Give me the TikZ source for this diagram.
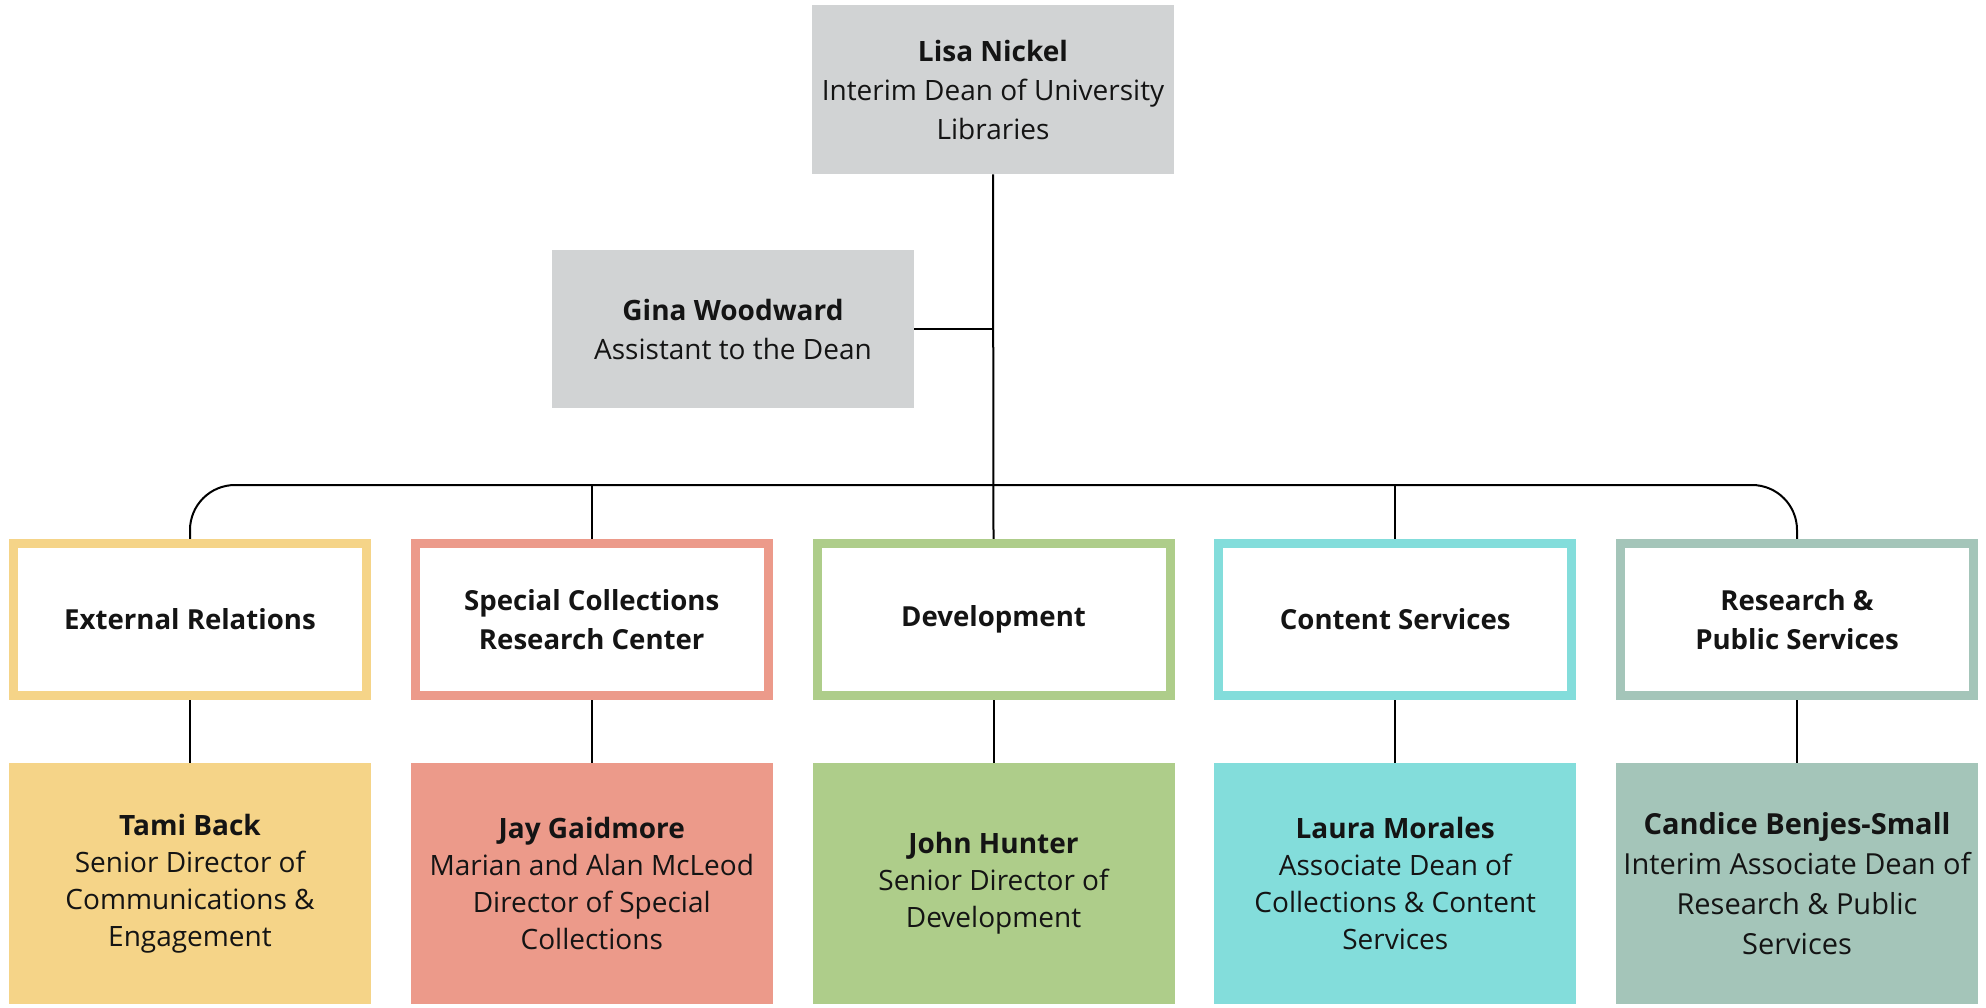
\documentclass[tikz,border=0pt]{standalone}
\usepackage{fontspec}
\setmainfont{Open Sans}
\usetikzlibrary{backgrounds}
\definecolor{boxgray}{HTML}{D1D3D4}
\definecolor{cyel}{HTML}{F5D488}
\definecolor{cred}{HTML}{EC9A8A}
\definecolor{cgreen}{HTML}{AECD8A}
\definecolor{ccyan}{HTML}{83DDDB}
\definecolor{csage}{HTML}{A4C5B9}
\definecolor{txt}{HTML}{141414}
\begin{document}
\begin{tikzpicture}[x=0.5pt,y=-0.5pt,
  every node/.style={font=\fontsize{14}{19.5}\selectfont, align=center, inner sep=0pt, text=txt},
  graybox/.style={fill=boxgray, minimum width=181pt},
  deptbox/.style={draw=#1, fill=white, line width=4.5pt, minimum width=176.5pt, minimum height=76pt, font=\fontsize{13.8}{19.5}\selectfont\bfseries},
  leafbox/.style={fill=#1, minimum width=181pt, minimum height=120.5pt, font=\fontsize{14}{18.5}\selectfont},
  conn/.style={draw=black, line width=1pt}]
\useasboundingbox (0,0) rectangle (1986,1007);

\node[graybox, minimum height=84.5pt] (dean) at (993,89.5) {{\bfseries Lisa Nickel}\\Interim Dean of University\\Libraries};
\node[graybox, minimum height=79pt] (asst) at (733,329) {{\bfseries Gina Woodward}\\Assistant to the Dean};

\node[deptbox=cyel]   (d1) at (190,619.5) {External Relations};
\node[deptbox=cred]   (d2) at (591.75,619.5) {Special Collections\\Research Center};
\node[deptbox=cgreen] (d3) at (993.5,619.5) {Development};
\node[deptbox=ccyan]  (d4) at (1395.25,619.5) {Content Services};
\node[deptbox=csage]  (d5) at (1797,619.5) {Research \&\\Public Services};

\node[leafbox=cyel]   (l1) at (190,883.5) {{\bfseries Tami Back}\\Senior Director of\\Communications \&\\Engagement};
\node[leafbox=cred]   (l2) at (591.75,883.5) {{\bfseries Jay Gaidmore}\\Marian and Alan McLeod\\Director of Special\\Collections};
\node[leafbox=cgreen] (l3) at (993.5,883.5) {{\bfseries John Hunter}\\Senior Director of\\Development};
\node[leafbox=ccyan]  (l4) at (1395.25,883.5) {{\bfseries Laura Morales}\\Associate Dean of\\Collections \& Content\\Services};
\node[leafbox=csage, font=\fontsize{14.5}{20}\selectfont]  (l5) at (1797,883.5) {{\bfseries Candice Benjes-Small}\\Interim Associate Dean of\\Research \& Public\\Services};

\coordinate (bus) at (993,485);

\begin{scope}[on background layer]
  \draw[conn] (dean.south) -- (d3.north);
  \draw[conn] (asst.east) -- (asst.east -| dean.south);
  \draw[conn, rounded corners=22.5pt] (d1.north) -- (d1.north |- bus) -- (d5.north |- bus) -- (d5.north);
  \draw[conn] (d2.north |- bus) -- (d2.north);
  \draw[conn] (d4.north |- bus) -- (d4.north);
  \foreach \i in {1,...,5} {\draw[conn] (d\i.south) -- (l\i.north);}
\end{scope}
\end{tikzpicture}
\end{document}
